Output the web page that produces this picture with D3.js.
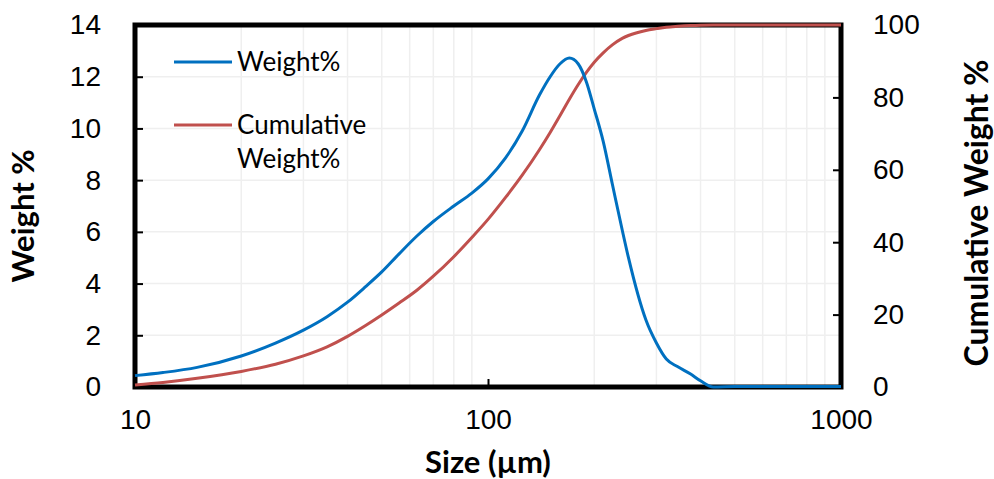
<!DOCTYPE html>
<html>
<head>
<meta charset="utf-8">
<script src="https://cdn.jsdelivr.net/npm/d3@7"></script>
<style>
  body { margin: 0; background: #fff; }
  svg { font-family: Lato, "Open Sans", sans-serif; }
</style>
</head>
<body>
<svg width="994" height="479"></svg>
<script>
// particle size distribution
var sizes = [10, 12, 15, 20, 25, 30, 35, 40, 45, 50, 56, 63, 70, 80, 90, 100, 112, 125, 140, 150,
             160, 170, 180, 190, 200, 212, 225, 240, 250, 280, 300, 320, 345, 375, 400, 435, 500, 600, 700, 800, 1000];
var weight = [0.44, 0.56, 0.76, 1.2, 1.7, 2.2, 2.72, 3.28, 3.88, 4.45, 5.15, 5.85, 6.4, 7.0, 7.5, 8.05, 8.85, 9.9, 11.3, 12.0,
              12.5, 12.72, 12.5, 11.8, 10.75, 9.5, 7.85, 6.07, 5.0, 2.6, 1.7, 1.08, 0.78, 0.5, 0.24, 0.0, 0.02, 0.02, 0.02, 0.02, 0.02];
var cumulative = [0.55, 1.25, 2.4, 4.3, 6.3, 8.6, 11.1, 14.0, 17.0, 19.9, 23.2, 26.8, 30.6, 36.0, 41.3, 46.3, 52.3, 58.5, 65.6, 70.3,
                  75.0, 79.5, 83.5, 86.9, 89.7, 92.3, 94.5, 96.3, 97.1, 98.5, 99.0, 99.4, 99.65, 99.85, 99.95, 100, 100, 100, 100, 100, 100];
var leftTicks = [0, 2, 4, 6, 8, 10, 12, 14];
var rightTicks = [0, 20, 40, 60, 80, 100];
var xTicks = [10, 100, 1000];

var svg = d3.select("svg"),
    margin = { top: 25, right: 153, bottom: 92, left: 135 },
    width = +svg.attr("width") - margin.left - margin.right,
    height = +svg.attr("height") - margin.top - margin.bottom;

var x = d3.scaleLog().domain([10, 1000]).range([0, width]);
var y = d3.scaleLinear().domain([0, 14]).range([height, 0]);
var y2 = d3.scaleLinear().domain([0, 100]).range([height, 0]);

var g = svg.append("g")
    .attr("transform", "translate(" + margin.left + "," + margin.top + ")");

// minor log grid
var minor = x.ticks().filter(d => xTicks.indexOf(d) < 0);
g.append("g").selectAll("line")
    .data(minor)
    .enter().append("line")
    .attr("x1", d => x(d)).attr("x2", d => x(d))
    .attr("y1", 0).attr("y2", height)
    .attr("stroke", "#efefef").attr("stroke-width", 1.5);

g.append("g").selectAll("line")
    .data(leftTicks.slice(1, -1))
    .enter().append("line")
    .attr("x1", 0).attr("x2", width)
    .attr("y1", d => y(d)).attr("y2", d => y(d))
    .attr("stroke", "#efefef").attr("stroke-width", 1.5);

// axes (ticks point inwards)
var yAxis = g.append("g")
    .call(d3.axisLeft(y).tickValues(leftTicks).tickSize(-8).tickPadding(34));
var y2Axis = g.append("g")
    .attr("transform", "translate(" + width + ",0)")
    .call(d3.axisRight(y2).tickValues(rightTicks).tickSize(-8).tickPadding(32));
var xAxis = g.append("g")
    .attr("transform", "translate(0," + height + ")")
    .call(d3.axisBottom(x).tickValues(xTicks).tickFormat(d3.format("d")).tickSize(-8).tickPadding(34));

[yAxis, y2Axis, xAxis].forEach(function (a) {
    a.select(".domain").remove();
    a.selectAll(".tick line").attr("stroke", "#000").attr("stroke-width", 2);
    a.selectAll(".tick text").attr("fill", "#000").style("font-size", "28px");
});
yAxis.selectAll(".tick text").attr("text-anchor", "end");
xAxis.selectAll(".tick text").attr("dy", "0.3em");

// frame
g.append("rect")
    .attr("x", 0).attr("y", 0)
    .attr("width", width).attr("height", height)
    .attr("fill", "none")
    .attr("stroke", "#000")
    .attr("stroke-width", 5);

var line1 = d3.line()
    .x((d, i) => x(sizes[i]))
    .y(d => y(d))
    .curve(d3.curveMonotoneX);
var line2 = d3.line()
    .x((d, i) => x(sizes[i]))
    .y(d => y2(d))
    .curve(d3.curveMonotoneX);

g.append("path")
    .datum(cumulative)
    .attr("fill", "none")
    .attr("stroke", "#C0504D")
    .attr("stroke-width", 3)
    .attr("d", line2);

g.append("path")
    .datum(weight)
    .attr("fill", "none")
    .attr("stroke", "#0070C0")
    .attr("stroke-width", 3)
    .attr("d", line1);

// legend
var legend = g.append("g").attr("transform", "translate(39,37)");
legend.append("line").attr("x1", 0).attr("x2", 58).attr("y1", 0).attr("y2", 0)
    .attr("stroke", "#0070C0").attr("stroke-width", 3);
legend.append("text").attr("x", 63).attr("y", 9).style("font-size", "26px").text("Weight%");
legend.append("line").attr("x1", 0).attr("x2", 58).attr("y1", 63).attr("y2", 63)
    .attr("stroke", "#C0504D").attr("stroke-width", 3);
legend.append("text").attr("x", 63).attr("y", 72).style("font-size", "26px").text("Cumulative");
legend.append("text").attr("x", 63).attr("y", 106).style("font-size", "26px").text("Weight%");

// axis titles
svg.append("text")
    .attr("x", margin.left + width / 2).attr("y", 473)
    .attr("text-anchor", "middle")
    .style("font-size", "31px").style("font-weight", "bold")
    .text("Size (µm)");

svg.append("text")
    .attr("transform", "translate(34,216) rotate(-90)")
    .attr("text-anchor", "middle")
    .style("font-size", "31px").style("font-weight", "bold")
    .text("Weight %");

svg.append("text")
    .attr("transform", "translate(988,213) rotate(-90)")
    .attr("text-anchor", "middle")
    .style("font-size", "32px").style("font-weight", "bold")
    .text("Cumulative Weight %");
</script>
</body>
</html>
